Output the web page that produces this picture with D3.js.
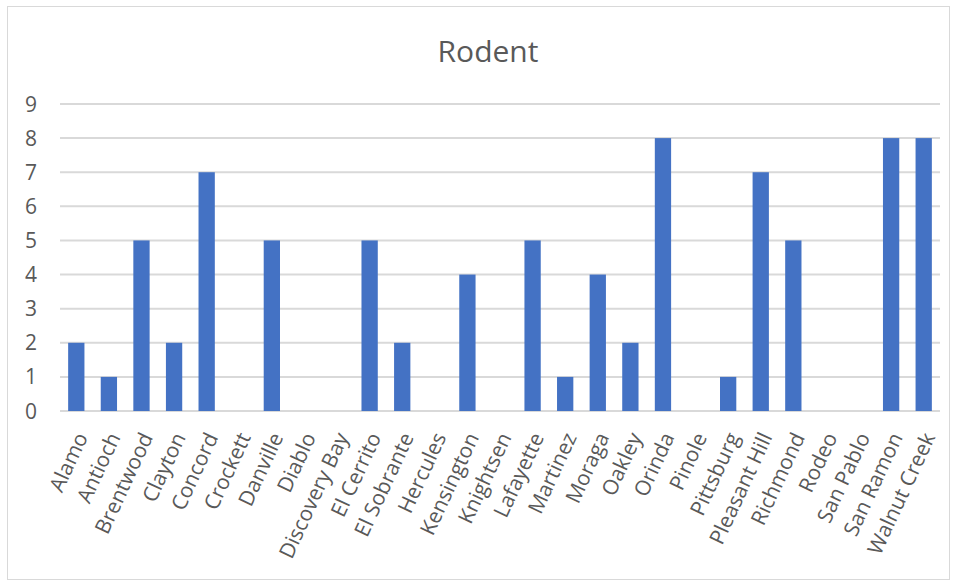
<!DOCTYPE html>
<html>
<head>
<meta charset="utf-8">
<script src="https://cdn.jsdelivr.net/npm/d3@7"></script>
<style>
  body { margin: 0; background: #fff; }
  text { font-family: "Segoe UI", "Open Sans", sans-serif; fill: #595959; }
</style>
</head>
<body>
<div id="chart"></div>
<script>
// Data
let cities = ["Alamo","Antioch","Brentwood","Clayton","Concord","Crockett","Danville","Diablo",
  "Discovery Bay","El Cerrito","El Sobrante","Hercules","Kensington","Knightsen","Lafayette",
  "Martinez","Moraga","Oakley","Orinda","Pinole","Pittsburg","Pleasant Hill","Richmond",
  "Rodeo","San Pablo","San Ramon","Walnut Creek"];
let counts = [2,1,5,2,7,0,5,0,0,5,2,0,4,0,5,1,4,2,8,0,1,7,5,0,0,8,8];
let yTicks = [0,1,2,3,4,5,6,7,8,9];
let chartTitle = "Rodent";

// svg attributes
let svgWidth = 958;
let svgHeight = 582;
let plot = {left: 60, right: 940, top: 104, bottom: 411};

let svg = d3.select("#chart")
  .append("svg")
  .attr("width", svgWidth)
  .attr("height", svgHeight);

// chart border
svg.append("rect")
  .attr("x", 7.5).attr("y", 6.5)
  .attr("width", 942).attr("height", 573)
  .attr("fill", "#fff")
  .attr("stroke", "#d9d9d9");

let xScale = d3.scaleBand()
  .domain(cities)
  .range([plot.left, plot.right])
  .paddingInner(0.5)
  .paddingOuter(0.25);

let yScale = d3.scaleLinear()
  .domain([0, 9])
  .range([plot.bottom, plot.top]);

// gridlines
svg.append("g")
  .selectAll("line")
  .data(yTicks)
  .enter()
  .append("line")
  .attr("x1", plot.left)
  .attr("x2", plot.right)
  .attr("y1", d => yScale(d))
  .attr("y2", d => yScale(d))
  .attr("stroke", "#d9d9d9")
  .attr("stroke-width", 2);

// y labels
svg.append("g")
  .selectAll("text")
  .data(yTicks)
  .enter()
  .append("text")
  .attr("x", 31)
  .attr("y", d => yScale(d))
  .attr("dy", "0.36em")
  .attr("text-anchor", "middle")
  .attr("font-size", 21)
  .text(d => d);

// bars
svg.append("g")
  .selectAll("rect")
  .data(counts)
  .enter()
  .append("rect")
  .attr("x", (d,i) => xScale(cities[i]))
  .attr("y", d => yScale(d))
  .attr("width", xScale.bandwidth())
  .attr("height", d => yScale(0) - yScale(d))
  .attr("fill", "#4472c4");

// x labels, rotated
svg.append("g")
  .selectAll("text")
  .data(cities)
  .enter()
  .append("text")
  .attr("text-anchor", "end")
  .attr("font-size", 21)
  .attr("transform", d => `translate(${xScale(d) + xScale.bandwidth()/2 + 12},${plot.bottom + 26}) rotate(-65)`)
  .text(d => d);

// title
svg.append("text")
  .attr("x", 488)
  .attr("y", 62)
  .attr("text-anchor", "middle")
  .attr("font-size", 30)
  .text(chartTitle);
</script>
</body>
</html>
